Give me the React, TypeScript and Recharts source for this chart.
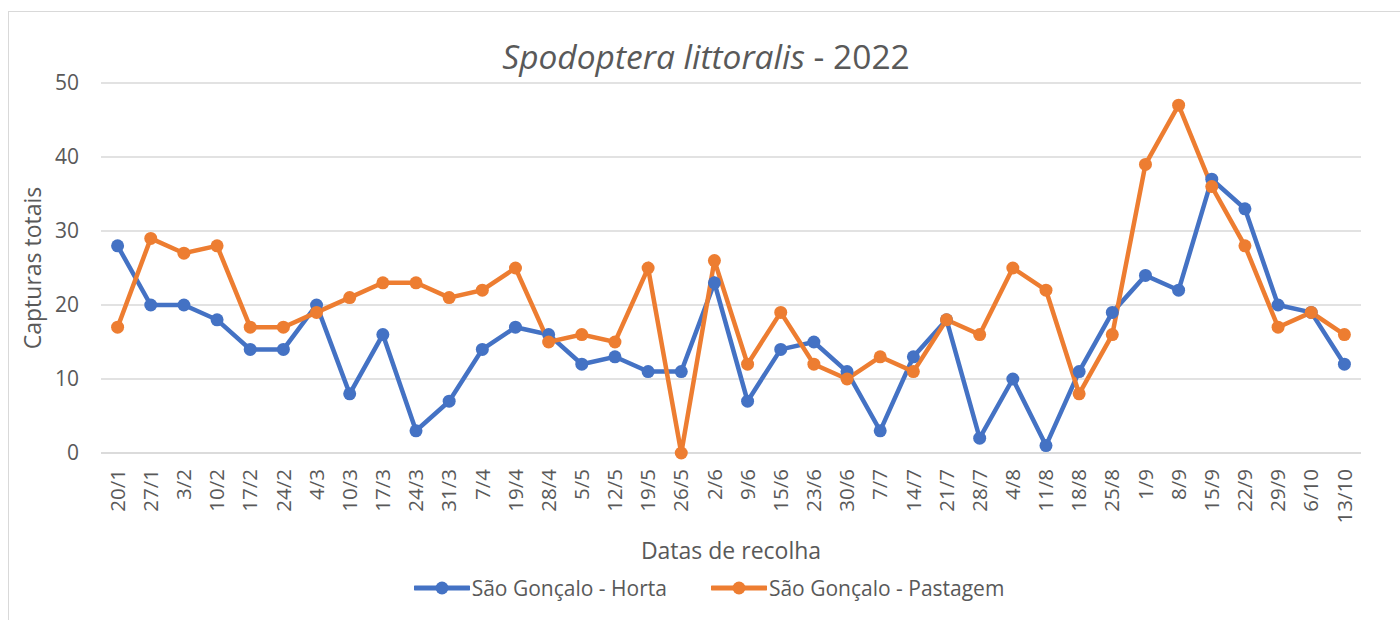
import { LineChart, Line, XAxis, YAxis, CartesianGrid, Legend, Label } from "recharts";

const dates = [
  "20/1", "27/1", "3/2", "10/2", "17/2", "24/2", "4/3", "10/3", "17/3", "24/3",
  "31/3", "7/4", "19/4", "28/4", "5/5", "12/5", "19/5", "26/5", "2/6", "9/6",
  "15/6", "23/6", "30/6", "7/7", "14/7", "21/7", "28/7", "4/8", "11/8", "18/8",
  "25/8", "1/9", "8/9", "15/9", "22/9", "29/9", "6/10", "13/10",
];

const horta = [
  28, 20, 20, 18, 14, 14, 20, 8, 16, 3,
  7, 14, 17, 16, 12, 13, 11, 11, 23, 7,
  14, 15, 11, 3, 13, 18, 2, 10, 1, 11,
  19, 24, 22, 37, 33, 20, 19, 12,
];

const pastagem = [
  17, 29, 27, 28, 17, 17, 19, 21, 23, 23,
  21, 22, 25, 15, 16, 15, 25, 0, 26, 12,
  19, 12, 10, 13, 11, 18, 16, 25, 22, 8,
  16, 39, 47, 36, 28, 17, 19, 16,
];

const yTicks = [0, 10, 20, 30, 40, 50];

const SERIES = [
  { key: "horta", name: "São Gonçalo - Horta", color: "#4472C4" },
  { key: "pastagem", name: "São Gonçalo - Pastagem", color: "#ED7D31" },
];

const FONT = "'Open Sans', sans-serif";
const TEXT = "#595959";

const data = dates.map((d, i) => ({ date: d, horta: horta[i], pastagem: pastagem[i] }));

function DateTick({ x, y, payload }: any) {
  return (
    <g transform={`translate(${x},${y + 16})`}>
      <text transform="rotate(-90)" textAnchor="end" dy="0.35em" fill={TEXT} fontSize={20.5} fontFamily={FONT}>
        {payload.value}
      </text>
    </g>
  );
}

function LegendContent() {
  return (
    <div style={{ display: "flex", justifyContent: "center", gap: 44, fontFamily: FONT, fontSize: 21, color: TEXT }}>
      {SERIES.map((s) => (
        <div key={s.key} style={{ display: "flex", alignItems: "center" }}>
          <svg width={56} height={16} style={{ marginRight: 2 }}>
            <line x1={1} y1={8} x2={55} y2={8} stroke={s.color} strokeWidth={5} strokeLinecap="round" />
            <circle cx={28} cy={8} r={6.5} fill={s.color} />
          </svg>
          <span>{s.name}</span>
        </div>
      ))}
    </div>
  );
}

export default function App() {
  return (
    <div style={{ position: "fixed", left: 0, top: 0, width: 1400, height: 620, overflow: "hidden", background: "#fff" }}>
      <div style={{ position: "absolute", left: 8, top: 11, width: 1400, height: 620, border: "1px solid #d9d9d9" }} />
      <div
        style={{
          position: "absolute", left: 0, top: 34, width: 1412, textAlign: "center",
          fontFamily: FONT, fontSize: 33.5, color: TEXT, lineHeight: "44px",
        }}
      >
        <i>Spodoptera littoralis</i> - 2022
      </div>
      <div style={{ position: "absolute", left: 0, top: 0 }}>
        <LineChart width={1400} height={620} data={data} margin={{ top: 83, right: 39, bottom: 57, left: 21 }}>
          <CartesianGrid vertical={false} stroke="#d9d9d9" strokeWidth={1.5} />
          <XAxis
            dataKey="date"
            interval={0}
            padding={{ left: 16.6, right: 16.6 }}
            height={110}
            tickLine={false}
            tickSize={0}
            tickMargin={0}
            axisLine={{ stroke: "#d9d9d9", strokeWidth: 1.5 }}
            tick={<DateTick />}
          >
            <Label value="Datas de recolha" position="insideBottom" offset={4} fill={TEXT} fontSize={23} fontFamily={FONT} />
          </XAxis>
          <YAxis
            domain={[0, 50]}
            ticks={yTicks}
            width={80}
            axisLine={false}
            tickLine={false}
            tickSize={0}
            tickMargin={22}
            tick={{ fill: TEXT, fontSize: 21, fontFamily: FONT }}
          >
            <Label
              value="Capturas totais"
              angle={-90}
              position="insideLeft"
              offset={12}
              fill={TEXT}
              fontSize={23}
              fontFamily={FONT}
              style={{ textAnchor: "middle" }}
            />
          </YAxis>
          <Legend
            verticalAlign="middle"
            align="center"
            wrapperStyle={{ top: 574, left: 0, width: 1418 }}
            content={<LegendContent />}
          />
          {SERIES.map((s) => (
            <Line
              key={s.key}
              type="linear"
              dataKey={s.key}
              name={s.name}
              stroke={s.color}
              strokeWidth={4.5}
              dot={{ r: 6.5, fill: s.color, stroke: s.color, strokeWidth: 0 }}
              activeDot={false}
              isAnimationActive={false}
            />
          ))}
        </LineChart>
      </div>
    </div>
  );
}
